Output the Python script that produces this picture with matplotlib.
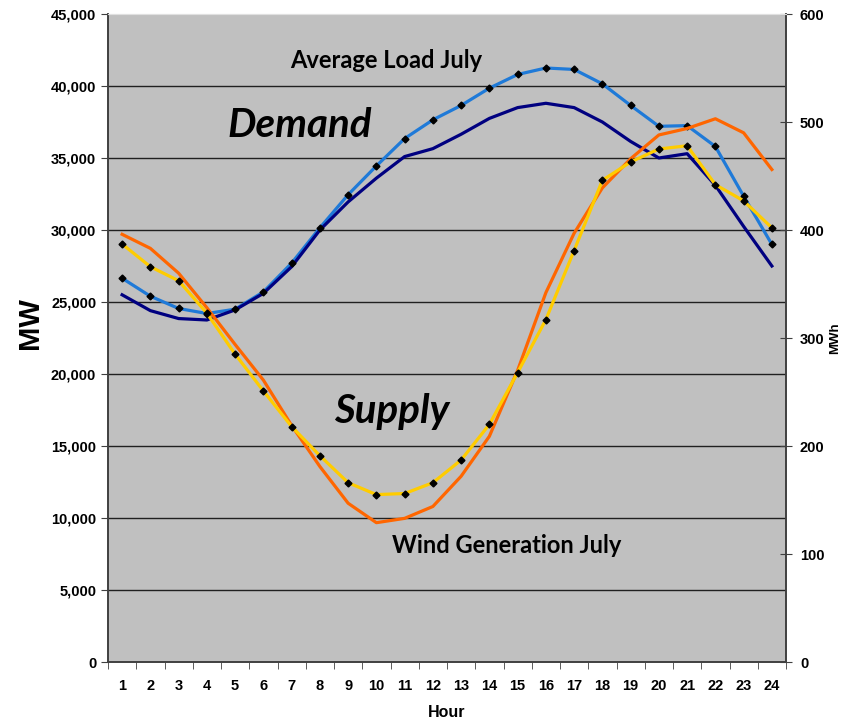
import numpy as np
import matplotlib
matplotlib.use('Agg')
import matplotlib.pyplot as plt
from matplotlib.ticker import FuncFormatter, MultipleLocator

# ============ data ============
HOURS = list(range(1, 25))

# demand (MW, left axis)
LOAD_MARKED = [26650, 25400, 24550, 24200, 24500, 25700, 27700, 30150, 32450, 34450, 36350, 37650,
               38650, 39850, 40800, 41250, 41150, 40150, 38650, 37200, 37250, 35800, 32350, 29000]
LOAD_LINE = [25500, 24400, 23850, 23750, 24450, 25600, 27450, 30000, 31950, 33600, 35100, 35650,
             36650, 37750, 38500, 38800, 38500, 37500, 36150, 35000, 35300, 33100, 30250, 27500]

# supply (MWh, right axis)
WIND_MARKED = [387, 366, 353, 323, 285, 251, 218, 191, 166, 155, 156, 166,
               187, 220, 268, 317, 381, 446, 463, 475, 478, 442, 427, 402]
WIND_LINE = [396, 383, 360, 328, 294, 261, 219, 181, 147, 129, 133, 144,
             172, 209, 270, 342, 397, 439, 466, 488, 494, 503, 490, 456]

BG = '#c0c0c0'
LIGHT_BLUE = '#1f7ad8'
NAVY = '#000080'
ORANGE = '#ff6600'
YELLOW = '#ffcc00'

TICK_FONT = 'Liberation Sans'
TEXT_FONT = 'Lato'

fig = plt.figure(figsize=(8.51, 7.21), dpi=100)
ax = fig.add_axes([108 / 851, 59 / 721, 678 / 851, 648 / 721])
ax.set_facecolor(BG)

x = np.arange(len(HOURS))

# gridlines
for v in range(5000, 45000, 5000):
    ax.axhline(v, color='#202020', linewidth=1.0, zorder=1)

ax.plot(x, LOAD_MARKED, '-', color=LIGHT_BLUE, linewidth=2.3, zorder=3)
ax.plot(x, LOAD_MARKED, 'D', color='black', markersize=3.5, zorder=6)
ax.plot(x, LOAD_LINE, '-', color=NAVY, linewidth=2.3, zorder=4)

ax.set_xlim(-0.5, len(HOURS) - 0.5)
ax.set_ylim(0, 45000)
ax.yaxis.set_major_locator(MultipleLocator(5000))
ax.yaxis.set_major_formatter(FuncFormatter(lambda v, p: f'{int(v):,}'))

ax.set_xticks(x)
ax.set_xticklabels([str(h) for h in HOURS])
ax.set_xticks(np.arange(-0.5, len(HOURS), 1), minor=True)
ax.tick_params(axis='x', which='major', length=0, pad=12)
ax.tick_params(axis='x', which='minor', length=5, direction='out', color='#404040')
ax.tick_params(axis='y', length=5, direction='out', color='#404040')
for lab in ax.get_xticklabels() + ax.get_yticklabels():
    lab.set_fontfamily(TICK_FONT)
    lab.set_fontweight('bold')
    lab.set_fontsize(10.5)

ax.set_ylabel('MW', fontsize=21, fontweight='bold', fontfamily=TICK_FONT)
ax.yaxis.set_label_coords(-0.095, 0.523)
ax.set_xlabel('Hour', fontsize=11.5, fontweight='bold', fontfamily=TICK_FONT, labelpad=9)

for s in ['left', 'bottom', 'right']:
    ax.spines[s].set_color('#404040')
    ax.spines[s].set_linewidth(1.2)
ax.spines['top'].set_color('#e0e0e0')

# right axis
ax2 = ax.twinx()
ax2.plot(x, WIND_LINE, '-', color=ORANGE, linewidth=2.3, zorder=3)
ax2.plot(x, WIND_MARKED, '-', color=YELLOW, linewidth=2.3, zorder=4)
ax2.plot(x, WIND_MARKED, 'D', color='black', markersize=3.5, zorder=6)
ax2.set_ylim(0, 600)
ax2.yaxis.set_major_locator(MultipleLocator(100))
ax2.tick_params(axis='y', length=8, direction='inout', color='#404040', pad=6)
for lab in ax2.get_yticklabels():
    lab.set_fontfamily(TICK_FONT)
    lab.set_fontweight('bold')
    lab.set_fontsize(10.5)
ax2.set_ylabel('MWh', fontsize=9.5, fontweight='bold', fontfamily=TICK_FONT, labelpad=3)
for s in ['left', 'bottom', 'right']:
    ax2.spines[s].set_color('#404040')
    ax2.spines[s].set_linewidth(1.2)
ax2.spines['top'].set_color('#e0e0e0')

# annotations
ax.text(9.33, 41230, 'Average Load July', fontsize=17, fontweight='bold',
        fontfamily=TEXT_FONT, ha='center', va='baseline', zorder=7)
ax.text(6.3, 36460, 'Demand', fontsize=29, fontweight='bold', fontstyle='italic',
        fontfamily=TEXT_FONT, ha='center', va='baseline', zorder=7)
ax.text(9.56, 16600, 'Supply', fontsize=29, fontweight='bold', fontstyle='italic',
        fontfamily=TEXT_FONT, ha='center', va='baseline', zorder=7)
ax.text(13.63, 7590, 'Wind Generation July', fontsize=17, fontweight='bold',
        fontfamily=TEXT_FONT, ha='center', va='baseline', zorder=7)

fig.savefig('out.png', dpi=100, facecolor='white')
